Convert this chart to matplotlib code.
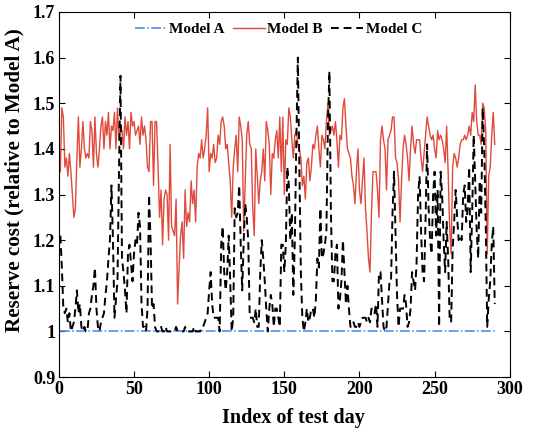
import numpy as np
import matplotlib
matplotlib.use("Agg")
import matplotlib.pyplot as plt

plt.rcParams['font.family'] = ['Liberation Serif', 'DejaVu Serif']
plt.rcParams['font.weight'] = 'bold'

model_b = [
    1.35, 1.49, 1.47, 1.36, 1.38, 1.34, 1.39, 1.35, 1.30, 1.25,
    1.27, 1.38, 1.47, 1.36, 1.40, 1.46, 1.40, 1.38, 1.39, 1.38,
    1.46, 1.44, 1.36, 1.47, 1.39, 1.36, 1.40, 1.45, 1.47, 1.40,
    1.46, 1.43, 1.48, 1.40, 1.45, 1.44, 1.48, 1.40, 1.49, 1.42,
    1.45, 1.44, 1.40, 1.47, 1.43, 1.46, 1.40, 1.48, 1.45, 1.46,
    1.43, 1.44,
    1.45, 1.41, 1.47, 1.43, 1.45, 1.42, 1.36, 1.35, 1.46, 1.46,
    1.32, 1.46, 1.46, 1.36, 1.25, 1.31, 1.19, 1.29, 1.31, 1.30,
    1.20, 1.41, 1.23, 1.22, 1.21, 1.29, 1.06, 1.14, 1.21, 1.24,
    1.16, 1.31, 1.23, 1.26, 1.24, 1.33, 1.28, 1.31, 1.24, 1.36,
    1.39, 1.38, 1.42, 1.38, 1.40, 1.43, 1.49, 1.35, 1.39, 1.38,
    1.41, 1.37,
    1.38, 1.43, 1.41, 1.46, 1.47, 1.45, 1.40,
    1.41, 1.37, 1.33, 1.25, 1.36, 1.40, 1.43, 1.35, 1.47, 1.45,
    1.42, 1.22, 1.33, 1.43, 1.46, 1.41, 1.40, 1.27, 1.21, 1.40,
    1.34, 1.28, 1.33, 1.35, 1.40, 1.33, 1.46, 1.44, 1.41, 1.30,
    1.39, 1.38, 1.42, 1.44, 1.38, 1.47, 1.35, 1.47, 1.30, 1.42,
    1.41, 1.49, 1.47, 1.42,
    1.38, 1.43, 1.44, 1.41, 1.40, 1.38, 1.32, 1.34, 1.29, 1.37,
    1.38, 1.33, 1.36, 1.41, 1.40, 1.43, 1.45, 1.40, 1.36, 1.43,
    1.42, 1.40, 1.46, 1.50, 1.43, 1.44, 1.45, 1.43, 1.46, 1.42,
    1.36, 1.43, 1.42, 1.49, 1.51, 1.45, 1.40, 1.39, 1.38, 1.34,
    1.32, 1.28, 1.35, 1.40, 1.31, 1.28, 1.33, 1.38, 1.27, 1.22,
    1.16,
    1.13, 1.26, 1.35, 1.35, 1.35, 1.31, 1.25, 1.42, 1.45, 1.42,
    1.40, 1.31, 1.42, 1.43, 1.44, 1.47, 1.47, 1.38, 1.37, 1.33,
    1.24, 1.33, 1.40, 1.43, 1.41, 1.38, 1.33, 1.40, 1.45, 1.41,
    1.39, 1.42, 1.42, 1.42, 1.38, 1.35, 1.39, 1.43, 1.47, 1.45,
    1.43, 1.42, 1.43, 1.40, 1.38, 1.44, 1.42,
    1.43, 1.42, 1.40, 1.37, 1.45, 1.35, 1.23, 1.17, 1.36, 1.39,
    1.38, 1.36, 1.38, 1.41, 1.42, 1.42, 1.43, 1.42, 1.43, 1.45,
    1.43, 1.48, 1.46, 1.54, 1.46, 1.43, 1.43, 1.41, 1.50, 1.49,
    1.44, 1.17, 1.34, 1.36, 1.43, 1.48, 1.41,
]

model_c = [
    1.21, 1.14, 1.05, 1.04, 1.05, 1.02, 1.04, 1.00, 1.01, 1.02,
    1.05, 1.09, 1.04, 1.06, 1.01, 1.00, 1.01, 1.00, 1.00, 1.04,
    1.05, 1.08, 1.10, 1.14, 1.05, 1.01, 1.00, 1.02, 1.03, 1.04,
    1.08, 1.11, 1.16, 1.20, 1.32, 1.20, 1.03, 1.07, 1.11, 1.35,
    1.56, 1.16, 1.13, 1.09, 1.04, 1.17, 1.19, 1.15, 1.11, 1.17,
    1.20, 1.19,
    1.26, 1.23, 1.06, 1.01, 1.01, 1.00, 1.05, 1.30, 1.20, 1.05,
    1.06, 1.01, 1.00, 1.00, 1.00, 1.01, 1.00, 1.00, 1.01, 1.00,
    1.00, 1.00, 1.00, 1.00, 1.00, 1.01, 1.00, 1.00, 1.00, 1.00,
    1.00, 1.01, 1.00, 1.00, 1.00, 1.00, 1.00, 1.01, 1.00, 1.00,
    1.00, 1.00, 1.01, 1.01, 1.02, 1.03, 1.04, 1.09, 1.13, 1.06,
    1.03, 1.03,
    1.03, 1.03, 1.00, 1.19, 1.23, 1.13, 1.09, 1.13, 1.21, 1.11, 1.00,
    1.03, 1.27, 1.25, 1.26, 1.32, 1.19, 1.09, 1.20, 1.28, 1.25,
    1.20, 1.03, 1.03, 1.03, 1.02, 1.05, 1.01, 1.01, 1.13, 1.20,
    1.16, 1.11, 1.05, 1.00, 1.05, 1.08, 1.06, 1.01, 1.05, 1.05,
    1.03, 1.01, 1.19, 1.19, 1.13, 1.19, 1.36, 1.32, 1.20, 1.26,
    1.08,
    1.20, 1.42, 1.60, 1.36, 1.13, 1.03, 1.00, 1.02, 1.05, 1.02,
    1.03, 1.05, 1.05, 1.03, 1.07, 1.16, 1.14, 1.27, 1.16, 1.17,
    1.19, 1.22, 1.45, 1.57, 1.26, 1.11, 1.11, 1.17, 1.19, 1.05,
    1.07, 1.11, 1.20, 1.13, 1.06, 1.10, 1.05, 1.01, 1.01, 1.02,
    1.01, 1.01, 1.02, 1.01, 1.02, 1.03, 1.03, 1.03, 1.02, 1.03,
    1.02, 1.05, 1.05, 1.04, 1.06, 1.01, 1.13, 1.13, 1.07, 1.01,
    1.00, 1.01, 1.06, 1.11, 1.11, 1.26, 1.35, 1.21, 1.08, 1.01,
    1.05, 1.05, 1.05, 1.08, 1.06, 1.01, 1.02, 1.05, 1.13, 1.11,
    1.09, 1.15, 1.30, 1.34, 1.22, 1.13, 1.11, 1.25, 1.41, 1.27,
    1.20, 1.17, 1.30, 1.35, 1.21, 1.31, 1.01,
    1.35, 1.30, 1.20, 1.13, 1.24, 1.16, 1.03, 1.02, 1.18, 1.24,
    1.31, 1.25, 1.20, 1.21, 1.20, 1.30, 1.32, 1.24, 1.27, 1.36,
    1.13, 1.26, 1.43, 1.33, 1.22, 1.16, 1.33, 1.26, 1.49, 1.40,
    1.24, 1.01, 1.07, 1.11, 1.19, 1.23, 1.06,
]

n = min(len(model_b), len(model_c))
model_b = model_b[:n]
model_c = model_c[:n]
days = np.arange(1, n + 1)
model_a = [1.0] * n

x_ticks = [0, 50, 100, 150, 200, 250, 300]
y_ticks = [0.9, 1.0, 1.1, 1.2, 1.3, 1.4, 1.5, 1.6, 1.7]
y_tick_labels = ['0.9', '1', '1.1', '1.2', '1.3', '1.4', '1.5', '1.6', '1.7']

fig = plt.figure(figsize=(5.4, 4.28), dpi=100)
ax = fig.add_axes([0.109, 0.119, 0.835, 0.853])

ax.plot(days, model_a, color='#3a86f5', linestyle='-.', linewidth=1.1, label='Model A')
ax.plot(days, model_b, color='#e04a3c', linestyle='-', linewidth=1.0, label='Model B')
ax.plot(days, model_c, color='black', linestyle=(0, (4, 2.5)), linewidth=1.4, label='Model C')

ax.set_xlim(0, 300)
ax.set_ylim(0.9, 1.7)
ax.set_xticks(x_ticks)
ax.set_yticks(y_ticks)
ax.set_yticklabels(y_tick_labels)
ax.tick_params(direction='in', top=True, right=True, labelsize=13, length=4, width=0.8, pad=2.5)
for lab in ax.get_xticklabels() + ax.get_yticklabels():
    lab.set_fontweight('bold')

ax.set_xlabel('Index of test day', fontsize=14.5, fontweight='bold')
ax.set_ylabel('Reserve cost (relative to Model A)', fontsize=15.2, fontweight='bold')
ax.xaxis.set_label_coords(0.52, -0.086)
ax.yaxis.set_label_coords(-0.076, 0.54)

leg = ax.legend(loc='upper center', bbox_to_anchor=(0.487, 1.0), ncol=3, frameon=False,
                prop={'weight': 'bold', 'size': 11}, handlelength=2.1,
                columnspacing=0.55, handletextpad=0.15, borderaxespad=0.3)

fig.savefig('out.png', dpi=100)
